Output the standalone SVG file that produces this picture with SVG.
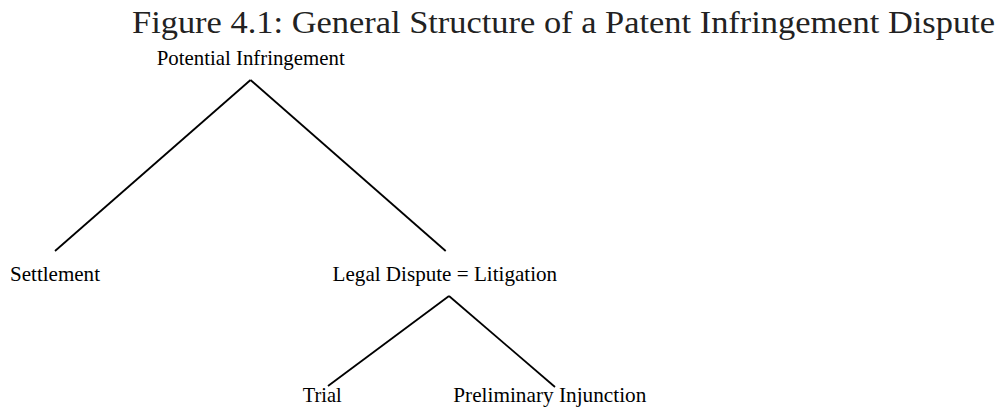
<svg xmlns="http://www.w3.org/2000/svg" width="1000" height="407" viewBox="0 0 1000 407">
<style>
.title{font-family:"Liberation Serif","DejaVu Serif",serif;font-size:31px;fill:#222}
.lbl{font-family:"Liberation Serif","Times New Roman",serif;font-size:21px;fill:#000}
.edge{stroke:#000;stroke-width:1.8;fill:none;stroke-linecap:butt}
</style>
<rect width="1000" height="407" fill="#fff"/>
<text class="title" x="132" y="33" textLength="863" lengthAdjust="spacingAndGlyphs">Figure 4.1: General Structure of a Patent Infringement Dispute</text>
<g id="connectors">
<line class="edge" x1="250.5" y1="80" x2="55" y2="251"/>
<line class="edge" x1="250.5" y1="80" x2="445.7" y2="251"/>
<line class="edge" x1="449" y1="296" x2="328" y2="386"/>
<line class="edge" x1="449" y1="296" x2="555" y2="387"/>
</g>
<g id="node-potential"><text class="lbl" x="156.7" y="65" textLength="188" lengthAdjust="spacingAndGlyphs">Potential Infringement</text></g>
<g id="node-settlement"><text class="lbl" x="10" y="281" textLength="90" lengthAdjust="spacingAndGlyphs">Settlement</text></g>
<g id="node-legal"><text class="lbl" x="332.6" y="281" textLength="224.5" lengthAdjust="spacingAndGlyphs">Legal Dispute = Litigation</text></g>
<g id="node-trial"><text class="lbl" x="302.7" y="401.5" textLength="39" lengthAdjust="spacingAndGlyphs">Trial</text></g>
<g id="node-prelim"><text class="lbl" x="453.3" y="401.5" textLength="193" lengthAdjust="spacingAndGlyphs">Preliminary Injunction</text></g>
</svg>
